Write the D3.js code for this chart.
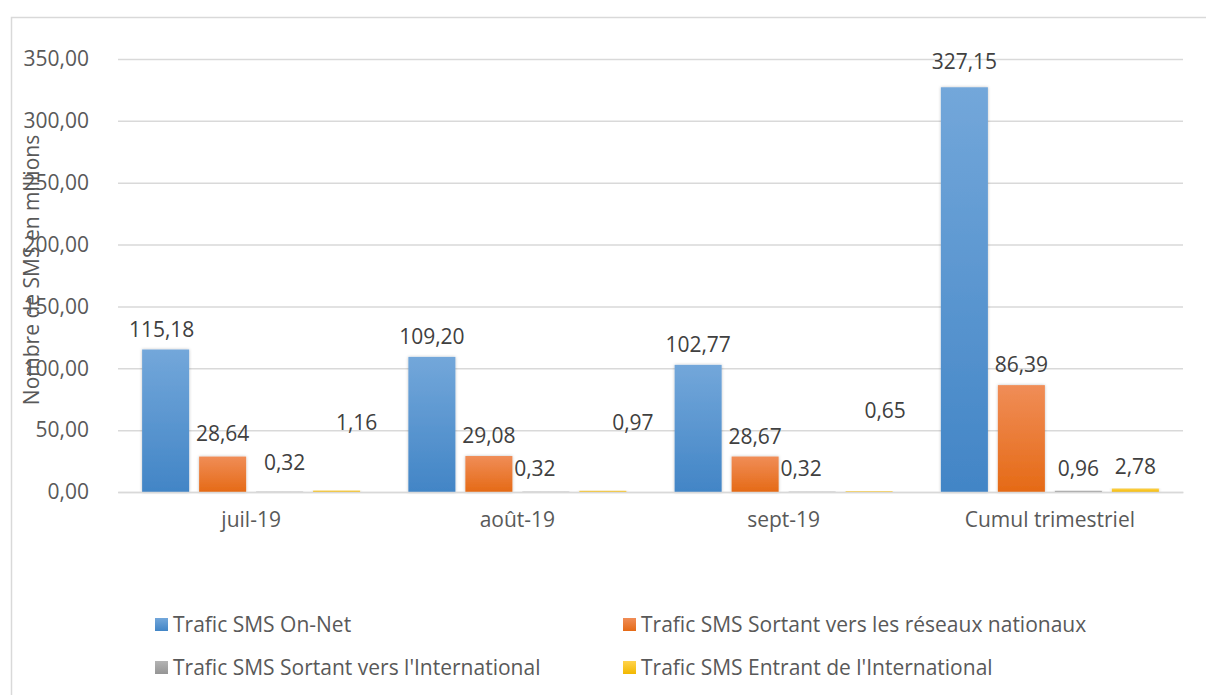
<!DOCTYPE html>
<html>
<head>
<meta charset="utf-8">
<script src="https://cdn.jsdelivr.net/npm/d3@7"></script>
<style>
  body { margin: 0; background: #fff; }
  svg text { font-family: "Open Sans", "Noto Sans", sans-serif; fill: #595959; }
</style>
</head>
<body>
<div id="chart"></div>
<script>
// categories and series
var categories = ["juil-19", "août-19", "sept-19", "Cumul trimestriel"];
var seriesNames = [
  "Trafic SMS On-Net",
  "Trafic SMS Sortant vers les réseaux nationaux",
  "Trafic SMS Sortant vers l'International",
  "Trafic SMS Entrant de l'International"
];
var onNet = [115.18, 109.20, 102.77, 327.15];
var sortantNational = [28.64, 29.08, 28.67, 86.39];
var sortantInternational = [0.32, 0.32, 0.32, 0.96];
var entrantInternational = [1.16, 0.97, 0.65, 2.78];
var yTicks = [0, 50, 100, 150, 200, 250, 300, 350];

// manual label nudges (the labels were moved by hand in the original)
var labelNudge = [
  [[-4, 0], [0, -3], [5, -9], [20, -48]],
  [[0, 0], [0, 0], [-11, -3], [30, -48]],
  [[0, 0], [0, 0], [-11, -3], [16, -60]],
  [[0, -5], [0, 0], [0, -2], [0, -2]]
];

var allSeries = [onNet, sortantNational, sortantInternational, entrantInternational];

var width = 1206, height = 695;
var margin = { top: 59, left: 118, right: 23, bottom: 203 };

var svg = d3.select("#chart")
  .append("svg")
  .attr("width", width)
  .attr("height", height);

// gradients for the bars
var colors = [
  ["#73a7da", "#4285c6"],
  ["#f08d57", "#e56a16"],
  ["#b4b4b4", "#959595"],
  ["#ffd34d", "#f2b800"]
];
var defs = svg.append("defs");
colors.forEach(function(c, i) {
  var g = defs.append("linearGradient")
    .attr("id", "grad" + i)
    .attr("x1", 0).attr("y1", 0).attr("x2", 0).attr("y2", 1);
  g.append("stop").attr("offset", "0%").attr("stop-color", c[0]);
  g.append("stop").attr("offset", "100%").attr("stop-color", c[1]);
});
var shadow = defs.append("filter").attr("id", "shadow")
  .attr("x", "-20%").attr("y", "-10%").attr("width", "140%").attr("height", "120%");
shadow.append("feDropShadow")
  .attr("dx", 0).attr("dy", 0).attr("stdDeviation", 1.5)
  .attr("flood-color", "#000").attr("flood-opacity", 0.25);

// outer frame
svg.append("rect")
  .attr("x", 11.5).attr("y", 17.5)
  .attr("width", 1200).attr("height", 700)
  .attr("fill", "none")
  .attr("stroke", "#d9d9d9")
  .attr("stroke-width", 1.5);

// scales
var xScale = d3.scaleBand()
  .domain(categories)
  .range([margin.left, width - margin.right])
  .padding(0);

var yScale = d3.scaleLinear()
  .domain([0, 350])
  .range([492, margin.top]);

var xSub = d3.scaleBand()
  .domain(d3.range(seriesNames.length))
  .range([-109, 109])
  .paddingInner(0.175);

var fmt = function(v) { return d3.format(".2f")(v).replace(".", ","); };

// y gridlines
svg.append("g")
  .attr("class", "y grid")
  .attr("transform", "translate(" + margin.left + ",0)")
  .call(d3.axisLeft(yScale)
    .tickValues(yTicks)
    .tickSize(-(width - margin.left - margin.right))
    .tickFormat(""))
  .call(function(g) {
    g.select(".domain").remove();
    g.selectAll("line").attr("stroke", "#d9d9d9").attr("stroke-width", 1.5);
  });

// y tick labels
svg.append("g")
  .attr("class", "y axis")
  .attr("transform", "translate(89,0)")
  .call(d3.axisLeft(yScale).tickValues(yTicks).tickSize(0).tickPadding(0).tickFormat(fmt))
  .call(function(g) {
    g.select(".domain").remove();
    g.selectAll("text")
      .style("font-size", "21px")
      .style("fill", "#595959")
      .attr("text-anchor", "end");
  });

// y axis title
svg.append("text")
  .attr("transform", "translate(39,270) rotate(-90)")
  .attr("text-anchor", "middle")
  .style("font-size", "21px")
  .text("Nombre de SMS en millions");

// bars
var groups = svg.selectAll(".cat")
  .data(categories)
  .enter()
  .append("g")
  .attr("class", "cat")
  .attr("transform", function(d) {
    return "translate(" + (xScale(d) + xScale.bandwidth() / 2) + ",0)";
  });

allSeries.forEach(function(values, s) {
  groups.append("rect")
    .attr("x", xSub(s))
    .attr("width", xSub.bandwidth())
    .attr("y", function(d, i) { return yScale(values[i]); })
    .attr("height", function(d, i) { return yScale(0) - yScale(values[i]); })
    .attr("fill", "url(#grad" + s + ")")
    .attr("filter", "url(#shadow)");
});

// baseline axis
svg.append("g")
  .attr("class", "x axis")
  .attr("transform", "translate(0," + yScale(0) + ")")
  .call(d3.axisBottom(xScale).tickSize(0).tickPadding(20))
  .call(function(g) {
    g.select(".domain").attr("stroke", "#d9d9d9").attr("stroke-width", 1.5);
    g.selectAll("text").style("font-size", "21px").style("fill", "#595959");
  });

// data labels
allSeries.forEach(function(values, s) {
  groups.append("text")
    .attr("x", function(d, i) { return xSub(s) + xSub.bandwidth() / 2 + labelNudge[i][s][0]; })
    .attr("y", function(d, i) { return yScale(values[i]) - 13 + labelNudge[i][s][1]; })
    .attr("text-anchor", "middle")
    .style("font-size", "21px")
    .style("fill", "#404040")
    .text(function(d, i) { return fmt(values[i]); });
});

// legend
var legendX = [155, 623];
var legendY = [625, 668];
seriesNames.forEach(function(name, i) {
  var lx = legendX[i % 2], ly = legendY[Math.floor(i / 2)];
  svg.append("rect")
    .attr("x", lx).attr("y", ly - 7)
    .attr("width", 13).attr("height", 13)
    .attr("fill", "url(#grad" + i + ")");
  svg.append("text")
    .attr("x", lx + 18).attr("y", ly)
    .attr("dy", "0.35em")
    .style("font-size", "21px")
    .text(name);
});
</script>
</body>
</html>
